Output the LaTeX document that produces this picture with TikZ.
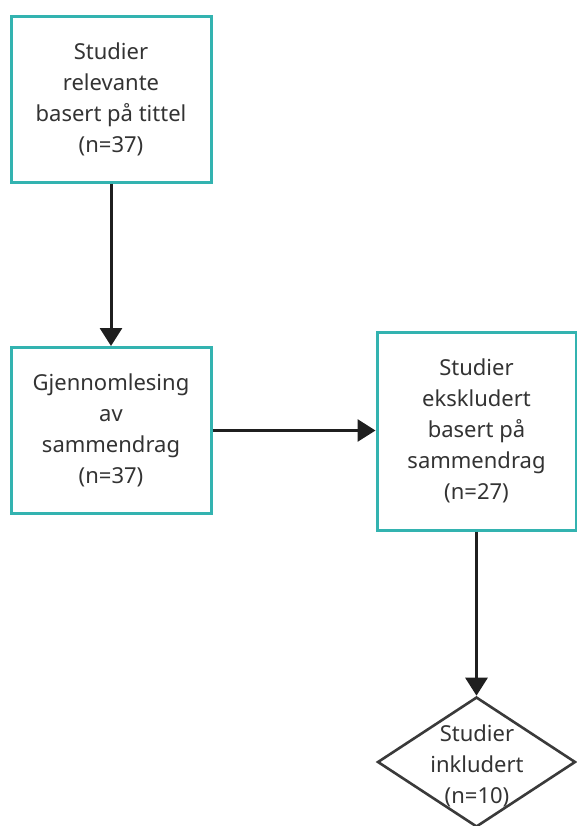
\documentclass[tikz,border=0pt]{standalone}
\usepackage{fontspec}
\setmainfont{Noto Sans}
\usetikzlibrary{shapes.geometric,arrows.meta}
\definecolor{teal1}{HTML}{33B3B0}
\definecolor{txt}{HTML}{333333}
\definecolor{dgray}{HTML}{3A3A3A}
\tikzset{
  box/.style={draw=teal1, line width=3pt, fill=white, text=txt, align=center,
    font=\fontsize{22}{31}\selectfont, inner sep=0pt},
  conn/.style={line width=3pt, draw=black!88, -{Triangle[length=18pt,width=22pt]}},
  dia/.style={diamond, draw=dgray, line width=2.6pt, inner sep=0pt, fill=white},
  lbl/.style={text=txt, align=center, font=\fontsize{22}{31}\selectfont, inner sep=0pt}
}
\begin{document}
\begin{tikzpicture}[x=1pt,y=-1pt]
\useasboundingbox (0,0) rectangle (577,826);
\node[box, minimum width=200pt, minimum height=166pt] (a) at (111,99.5) {Studier\\relevante\\basert på tittel\\(n=37)};
\node[box, minimum width=200pt, minimum height=166pt] (b) at (111,430.5) {Gjennomlesing\\av\\sammendrag\\(n=37)};
\node[box, minimum width=199pt, minimum height=198pt] (c) at (476.5,431) {Studier\\ekskludert\\basert på\\sammendrag\\(n=27)};
\node[dia, minimum width=198pt, minimum height=130pt] (d) at (476.5,762) {};
\node[lbl] (dt) at (477,766) {Studier\\inkludert\\(n=10)};
\draw[conn] (a.south) -- (b.north);
\draw[conn] (b.east) -- (c.west |- b.east);
\draw[conn] (c.south) -- (d.north);
\end{tikzpicture}
\end{document}
